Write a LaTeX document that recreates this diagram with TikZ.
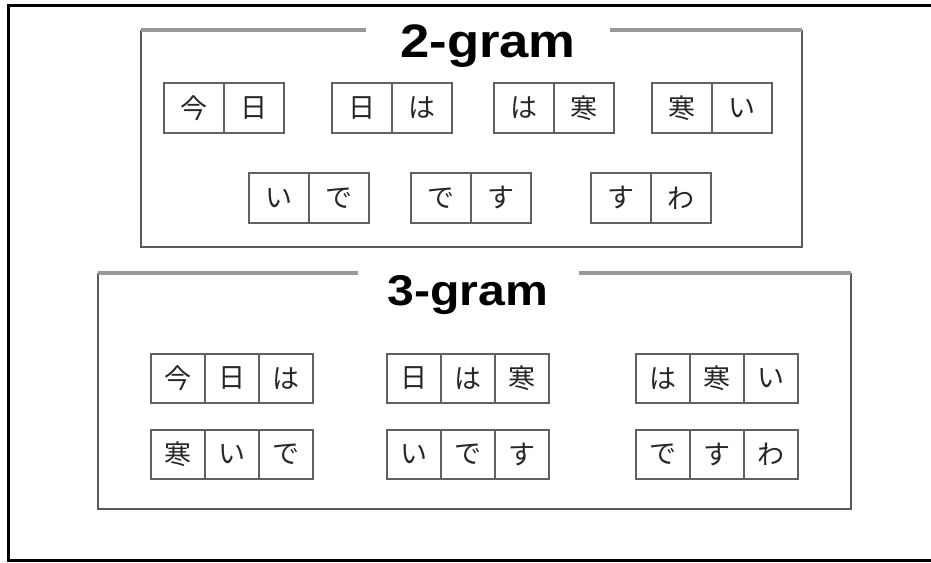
\documentclass[tikz,border=0pt]{standalone}
\usepackage{fontspec}
\setmainfont{Liberation Sans}
\newfontfamily\jpfont{Noto Sans CJK JP}
\newfontfamily\titlefont[FakeStretch=1.12]{Liberation Sans Bold}
\usetikzlibrary{positioning}

\tikzset{
  ngcell/.style={draw=black!62, line width=2.5pt, outer sep=0pt, inner sep=0pt,
    minimum width=60pt, minimum height=50pt,
    font=\jpfont\fontsize{27}{27}\selectfont, text=black!85},
  tricell/.style={ngcell, minimum width=54pt, minimum height=49pt},
  gramtitle/.style={font=\titlefont\fontsize{47}{47}\selectfont, inner xsep=34pt, inner ysep=0pt, anchor=base},
  frameside/.style={draw=black!65, line width=2.5pt},
  frametop/.style={draw=black!40, line width=3.5pt},
}

\begin{document}
\begin{tikzpicture}[x=1pt, y=-1pt]
  \useasboundingbox (0,0) rectangle (931,562);
  % outer border
  \draw[line width=3pt] (8,5.5) rectangle (933,560);

  % 2-gram frame
  \coordinate (f2nw) at (141,30);
  \coordinate (f2se) at (802,247);
  \node[gramtitle] (t2) at (488,57) {2-gram};
  \draw[frameside] (f2nw) -- (f2nw |- f2se) -- (f2se) -- (f2se |- f2nw);
  \draw[frametop] (f2nw) -- (t2.west |- f2nw);
  \draw[frametop] (t2.east |- f2nw) -- (f2se |- f2nw);

  % 2-gram cells
  \foreach \id/\x/\y/\a/\b in {a/164/83/今/日, b/332/83/日/は, c/494/83/は/寒, d/652/83/寒/い,
                               e/249/173/い/で, f/411/173/で/す, g/591/173/す/わ}
  {
    \node[ngcell, anchor=north west] (bi-\id-1) at (\x,\y) {\a};
    \node[ngcell, right=0pt of bi-\id-1] (bi-\id-2) {\b};
  }

  % 3-gram frame
  \coordinate (f3nw) at (98,273);
  \coordinate (f3se) at (851,509);
  \node[gramtitle, font=\titlefont\fontsize{43}{43}\selectfont, inner xsep=30pt] (t3) at (468,305) {3-gram};
  \draw[frameside] (f3nw) -- (f3nw |- f3se) -- (f3se) -- (f3se |- f3nw);
  \draw[frametop] (f3nw) -- (t3.west |- f3nw);
  \draw[frametop] (t3.east |- f3nw) -- (f3se |- f3nw);

  % 3-gram cells
  \foreach \id/\x/\y/\a/\b/\c in {a/151/354/今/日/は, b/387/354/日/は/寒, c/636/354/は/寒/い,
                                  d/151/430/寒/い/で, e/387/430/い/で/す, f/636/430/で/す/わ}
  {
    \node[tricell, anchor=north west] (tri-\id-1) at (\x,\y) {\a};
    \node[tricell, right=0pt of tri-\id-1] (tri-\id-2) {\b};
    \node[tricell, right=0pt of tri-\id-2] (tri-\id-3) {\c};
  }
\end{tikzpicture}
\end{document}
